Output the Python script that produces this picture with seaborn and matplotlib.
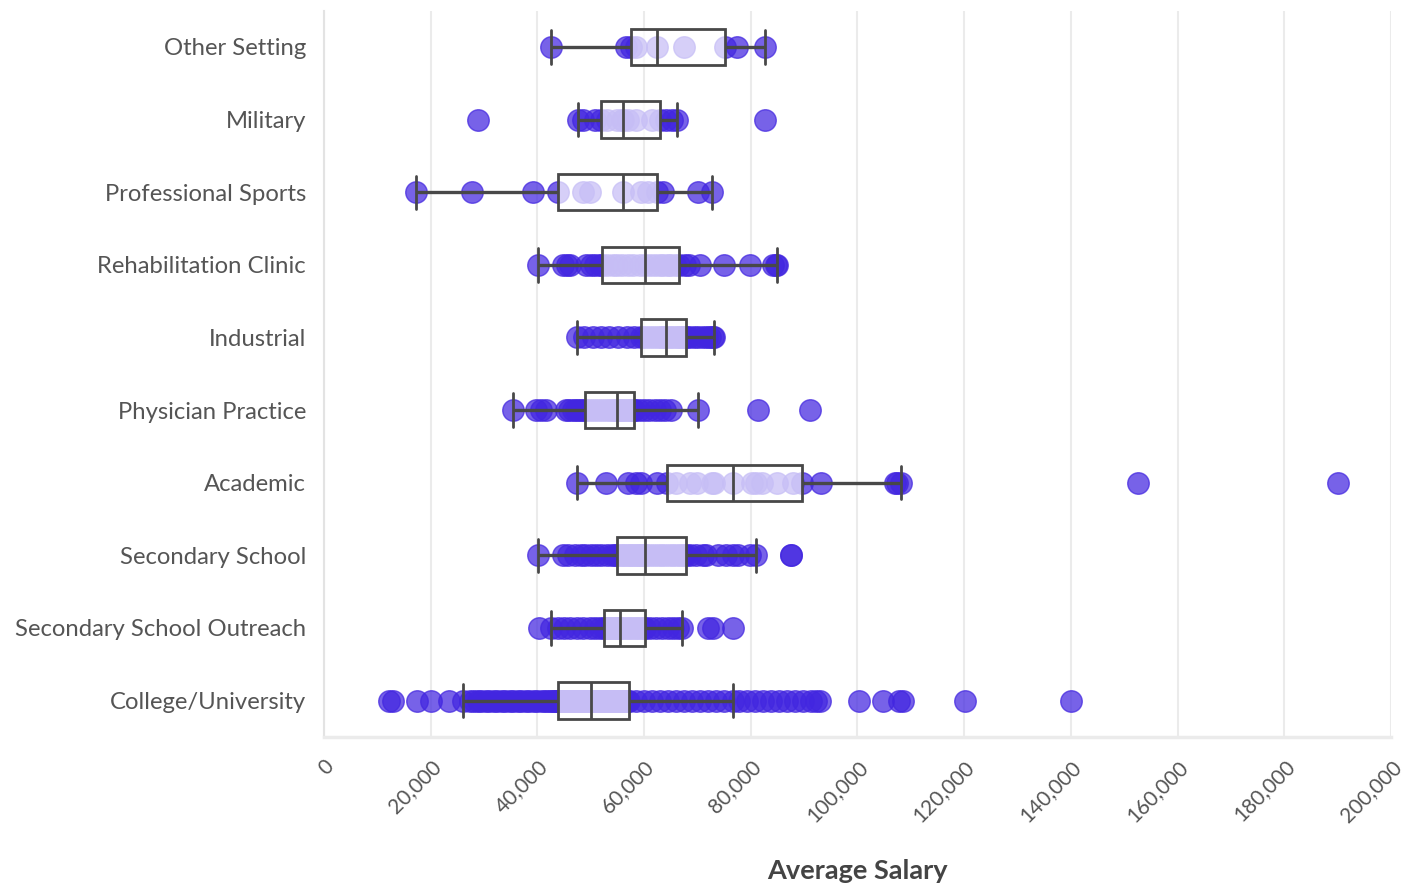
import pandas as pd
import matplotlib.pyplot as plt
import seaborn as sns

settings = ["Other Setting", "Military", "Professional Sports", "Rehabilitation Clinic",
            "Industrial", "Physician Practice", "Academic", "Secondary School",
            "Secondary School Outreach", "College/University"]

other_setting = [42500, 56700, 57500, 58500, 62500, 67500, 75200, 77400, 82700]
military = [28900, 47600, 48600, 50800, 51900, 53000, 55000, 55800, 56100, 57000,
            58500, 61400, 62900, 64200, 65200, 66100, 82700]
professional_sports = [17200, 27700, 39100, 43800, 48600, 49900, 56000, 59500,
                       60800, 62500, 63600, 70200, 72700]
rehabilitation_clinic = [40200, 44800, 45500, 46200, 49200, 50000, 50800, 51700,
                         52200, 53000, 54200, 55000, 55800, 57000, 58000, 59200,
                         60200, 61100, 62000, 63000, 63600, 64400, 64900, 65800,
                         66600, 67700, 68500, 70500, 75000, 79800, 84200, 84800, 85000]
industrial = [47400, 48800, 50500, 52000, 53500, 55200, 56800, 58200, 59400, 60000,
              60800, 61500, 62200, 62900, 63400, 63800, 64200, 64800, 65300, 65900,
              66400, 66900, 67200, 67500, 67800, 68500, 69300, 70200, 71000, 71800,
              72400, 72900, 73200]
physician_practice = [35500, 39800, 40600, 41700, 45300, 46000, 46700, 47300, 47800,
                      48400, 48900, 49500, 50200, 51000, 51800, 52500, 53200, 53800,
                      54300, 54600, 54900, 55300, 55700, 56100, 56500, 56900, 57300,
                      57600, 57900, 58100, 58200, 59000, 60000, 61000, 62000, 63000,
                      64000, 65000, 70200, 81400, 91100]
academic = [47500, 52900, 56900, 58400, 59500, 62500, 64300, 66000, 68700, 70000,
            72800, 73200, 76700, 80200, 81000, 82100, 85000, 88000, 89600, 93200,
            107000, 107500, 108200, 152600, 190100]
secondary_school = [40200, 44800, 45800, 47000, 48200, 49000, 50000, 51000, 52000,
                    53000, 54000, 54600, 55000, 55600, 56100, 56600, 57100, 57600,
                    58000, 58400, 58800, 59200, 59600, 59900, 60200, 60800, 61500,
                    62200, 62900, 63600, 64300, 65000, 65700, 66400, 67000, 67500,
                    67900, 68600, 69800, 71000, 71700, 73900, 75300, 76700, 77600,
                    79900, 81000, 87500, 87600]
secondary_school_outreach = [40400, 42500, 43800, 45000, 46200, 47400, 48600, 49800,
                             50800, 51700, 52500, 52800, 53100, 53400, 53700, 54000,
                             54300, 54700, 55000, 55300, 55500, 55900, 56400, 56900,
                             57400, 57900, 58400, 58900, 59400, 59900, 60200, 61200,
                             62300, 63400, 64500, 65500, 66400, 67200, 72000, 73000, 76600]
college_university = [12100, 13000, 17400, 20000, 23500, 26100, 27400, 28100, 28800,
                      29500, 30300, 31000, 31800, 32500, 33300, 34000, 34800, 35500,
                      36300, 37000, 37800, 38500, 39300, 40000, 40800, 41500, 42000,
                      42600, 43000, 43400, 43700, 43900, 44100, 44400, 44600, 44900,
                      45100, 45400, 45600, 45800, 46100, 46300, 46500, 46800, 47000,
                      47200, 47500, 47700, 47900, 48100, 48300, 48500, 48700, 48900,
                      49000, 49200, 49300, 49500, 49600, 49700, 49800, 49900, 50000,
                      50200, 50400, 50600, 50800, 51000, 51300, 51500, 51700, 51900,
                      52100, 52400, 52600, 52800, 53000, 53300, 53500, 53700, 54000,
                      54200, 54500, 54700, 55000, 55300, 55500, 55800, 56100, 56300,
                      56600, 56800, 57000, 57200, 58500, 60000, 61500, 63000, 64500,
                      66000, 67500, 69000, 70500, 72000, 73500, 75000, 76600, 77800,
                      79300, 80800, 82300, 83800, 85300, 86800, 88300, 89800, 91300,
                      92300, 93000, 100200, 104800, 107700, 108500, 120100, 140100]

x_ticks = [0, 20000, 40000, 60000, 80000, 100000, 120000, 140000, 160000, 180000, 200000]
x_tick_labels = ["0", "20,000", "40,000", "60,000", "80,000", "100,000", "120,000",
                 "140,000", "160,000", "180,000", "200,000"]

salaries = dict(zip(settings, [other_setting, military, professional_sports,
                               rehabilitation_clinic, industrial, physician_practice,
                               academic, secondary_school, secondary_school_outreach,
                               college_university]))
df = pd.DataFrame([(s, v) for s, vals in salaries.items() for v in vals],
                  columns=["Setting", "Average Salary"])

sns.set_style("white")
plt.rcParams["font.family"] = ["Lato", "DejaVu Sans"]

fig, ax = plt.subplots(figsize=(14.24, 8.9), dpi=100)
fig.subplots_adjust(left=0.2275, right=0.9768, top=0.988, bottom=0.172)

dot = "#4226e0"
sns.stripplot(data=df, x="Average Salary", y="Setting", order=settings, jitter=False,
              size=15.5, color=dot, alpha=0.72, linewidth=1, edgecolor=dot, zorder=1, ax=ax)
sns.boxplot(data=df, x="Average Salary", y="Setting", order=settings, width=0.5,
            whis=1.5, showfliers=False, linewidth=2, linecolor="#484848",
            boxprops=dict(facecolor=(1, 1, 1, 0.7)),
            whiskerprops=dict(linewidth=2.4), capprops=dict(linewidth=2),
            capwidths=0.46, ax=ax)

ax.set_xlim(0, 200000)
ax.set_xticks(x_ticks)
ax.set_xticklabels(x_tick_labels, rotation=45, ha="right", va="top",
                   rotation_mode="anchor")
ax.set_ylabel("")
ax.set_xlabel("Average Salary", fontsize=19.5, fontweight="bold", color="#444444")
ax.xaxis.set_label_coords(0.5, -0.168)

ax.xaxis.grid(True, color="#ebebeb", linewidth=1.5)
ax.yaxis.grid(False)
ax.set_axisbelow(True)

ax.tick_params(axis="y", length=6, width=1, color="#dddddd", pad=7,
               labelsize=17.2, labelcolor="#555555")
ax.tick_params(axis="x", length=6, width=1, color="#dddddd", pad=8,
               labelsize=15, labelcolor="#555555")
sns.despine(ax=ax, top=True, right=True)
ax.spines["left"].set_color("#e3e3e3")
ax.spines["left"].set_linewidth(1.5)
ax.spines["bottom"].set_color("#ebebeb")
ax.spines["bottom"].set_linewidth(2.5)

plt.savefig("out.png", dpi=100)
